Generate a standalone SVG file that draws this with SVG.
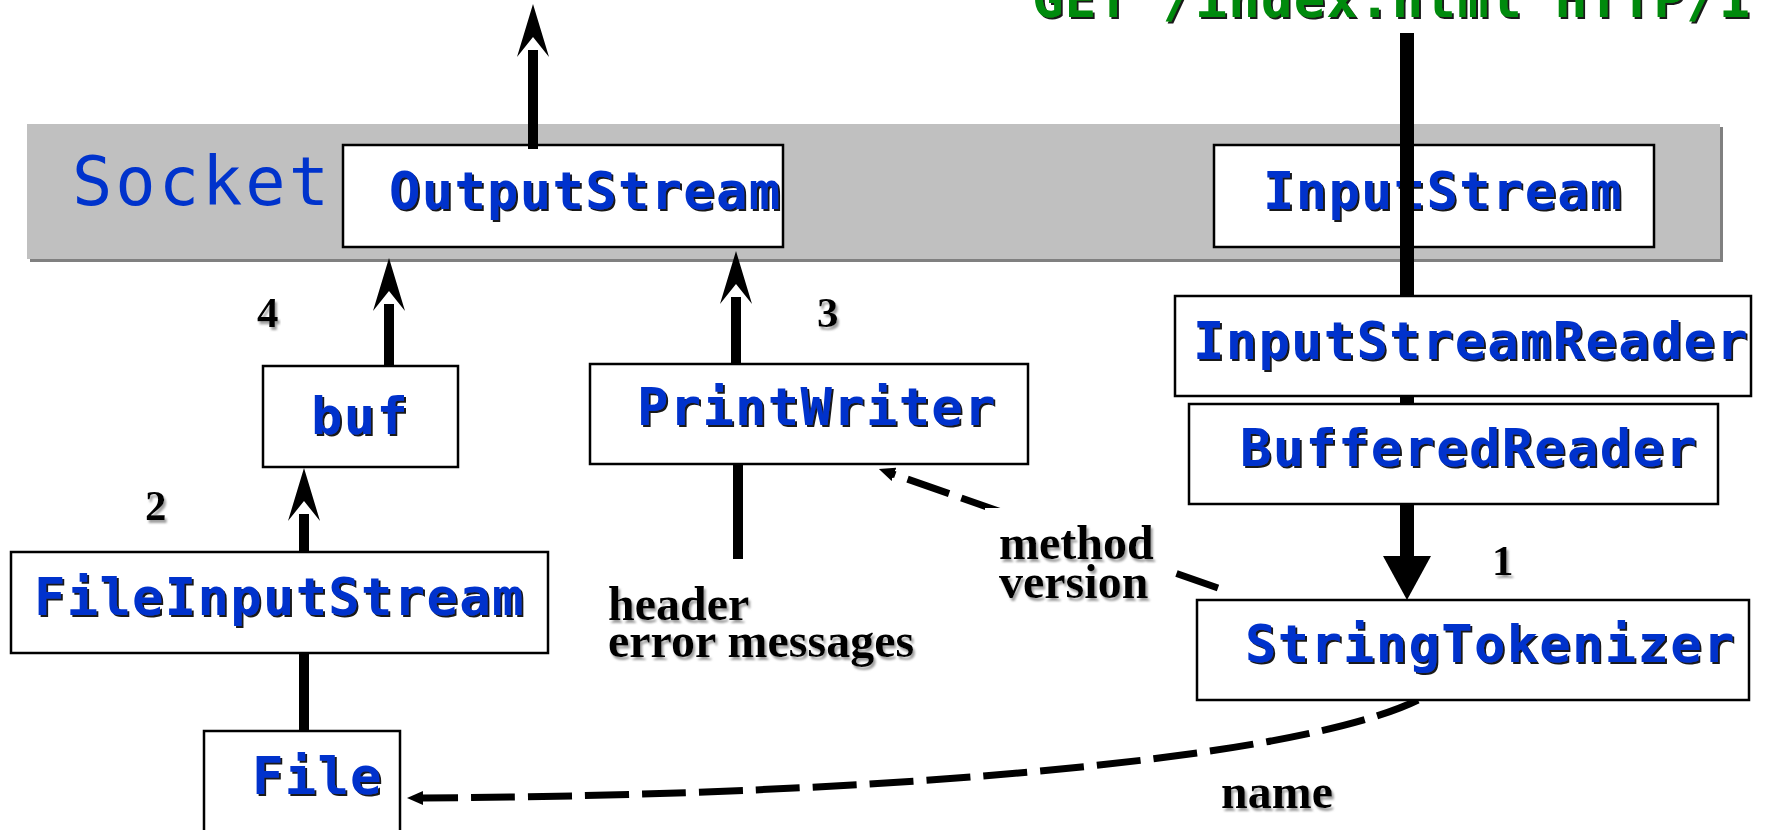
<svg xmlns="http://www.w3.org/2000/svg" width="1766" height="830" viewBox="0 0 1766 830">
<defs>
<style>
.box{fill:#fff;stroke:#000;stroke-width:2.5}
.code{font-family:"DejaVu Sans Mono","Liberation Mono",monospace;font-weight:bold;font-size:52px;letter-spacing:1.4px;fill:#0033cc;filter:url(#dark)}
.lbl{font-family:"Liberation Serif","Times New Roman",serif;font-weight:bold;font-size:48px;fill:#000;filter:url(#soft)}
.num{font-family:"Liberation Serif","Times New Roman",serif;font-weight:bold;font-size:43px;fill:#000;filter:url(#soft)}
.thick{stroke:#000;stroke-width:10;fill:none}
.dash{stroke:#000;stroke-width:7;fill:none;stroke-dasharray:44 13}
</style>
<filter id="dark" x="-5%" y="-20%" width="110%" height="140%">
<feDropShadow dx="2" dy="2" stdDeviation="0.3" flood-color="#000" flood-opacity="0.9"/>
</filter>
<filter id="soft" x="-5%" y="-20%" width="115%" height="150%">
<feDropShadow dx="2" dy="3" stdDeviation="1.2" flood-color="#888" flood-opacity="0.8"/>
</filter>
<marker id="barb" viewBox="0 -17 54 34" markerUnits="userSpaceOnUse" markerWidth="54" markerHeight="34" refX="7" refY="0" orient="auto">
<path d="M0,-16 L53,0 L0,16 L20,0 Z" fill="#000"/>
</marker>
<marker id="small" viewBox="0 -8 17 16" markerUnits="userSpaceOnUse" markerWidth="17" markerHeight="16" refX="1" refY="0" orient="auto">
<path d="M0,-7 L16,0 L0,7 Z" fill="#000"/>
</marker>
</defs>
<rect width="1766" height="830" fill="#fff"/>

<g id="socket">
<rect x="30" y="127" width="1693" height="135" fill="#808080"/>
<rect x="27" y="124" width="1693" height="135" fill="#c0c0c0"/>
<text x="72" y="205" font-family="'DejaVu Sans Mono','Liberation Mono',monospace" font-size="67" letter-spacing="3" fill="#0033cc">Socket</text>
</g>

<g id="outputstream">
<rect class="box" x="343" y="145" width="440" height="102"/>
<text class="code" x="389" y="209">OutputStream</text>
</g>

<g id="inputstream">
<rect class="box" x="1214" y="145" width="440" height="102"/>
<text class="code" x="1263" y="209">InputStream</text>
</g>

<g id="request">
<text x="1032" y="17" font-family="'DejaVu Sans Mono','Liberation Mono',monospace" font-weight="bold" font-size="52" letter-spacing="1.4" fill="#008a0a" filter="url(#dark)">GET /index.html HTTP/1</text>
</g>

<g id="connectors">
<line class="thick" x1="533" y1="149" x2="533" y2="50" marker-end="url(#barb)"/>
<line class="thick" x1="389" y1="366" x2="389" y2="304" marker-end="url(#barb)"/>
<line class="thick" x1="736" y1="364" x2="736" y2="297" marker-end="url(#barb)"/>
<line class="thick" x1="304" y1="552" x2="304" y2="514" marker-end="url(#barb)"/>
<line class="thick" x1="304" y1="653" x2="304" y2="731"/>
<line class="thick" x1="738" y1="464" x2="738" y2="559"/>
<line x1="1407" y1="33" x2="1407" y2="557" stroke="#000" stroke-width="14"/>
<polygon points="1383,556 1431,556 1407,600" fill="#000"/>
<path class="dash" d="M1218,588 L893,474" marker-end="url(#small)"/>
<path class="dash" d="M1418,700 C1300,758 900,795 422,798" marker-end="url(#small)"/>
</g>

<g id="inputstreamreader">
<rect class="box" x="1175" y="296" width="576" height="100"/>
<text class="code" x="1193" y="359">InputStreamReader</text>
</g>

<g id="bufferedreader">
<rect class="box" x="1189" y="404" width="529" height="100"/>
<text class="code" x="1240" y="466">BufferedReader</text>
</g>

<g id="stringtokenizer">
<rect class="box" x="1197" y="600" width="552" height="100"/>
<text class="code" x="1245" y="662">StringTokenizer</text>
</g>

<g id="buf">
<rect class="box" x="263" y="366" width="195" height="101"/>
<text class="code" x="311" y="434">buf</text>
</g>

<g id="printwriter">
<rect class="box" x="590" y="364" width="438" height="100"/>
<text class="code" x="637" y="425">PrintWriter</text>
</g>

<g id="fileinputstream">
<rect class="box" x="11" y="552" width="537" height="101"/>
<text class="code" x="34" y="615">FileInputStream</text>
</g>

<g id="file">
<rect class="box" x="204" y="731" width="196" height="110"/>
<text class="code" x="252" y="794">File</text>
</g>

<g id="labels">
<text class="num" x="257" y="327">4</text>
<text class="num" x="817" y="327">3</text>
<text class="num" x="145" y="520">2</text>
<text class="num" x="1492" y="575">1</text>
<text class="lbl"><tspan x="608" y="620">header</tspan><tspan x="608" y="657">error messages</tspan></text>
<rect x="985" y="508" width="181" height="100" fill="#fff"/>
<text class="lbl"><tspan x="999" y="559">method</tspan><tspan x="999" y="598">version</tspan></text>
<text class="lbl" x="1221" y="808">name</text>
</g>
</svg>
